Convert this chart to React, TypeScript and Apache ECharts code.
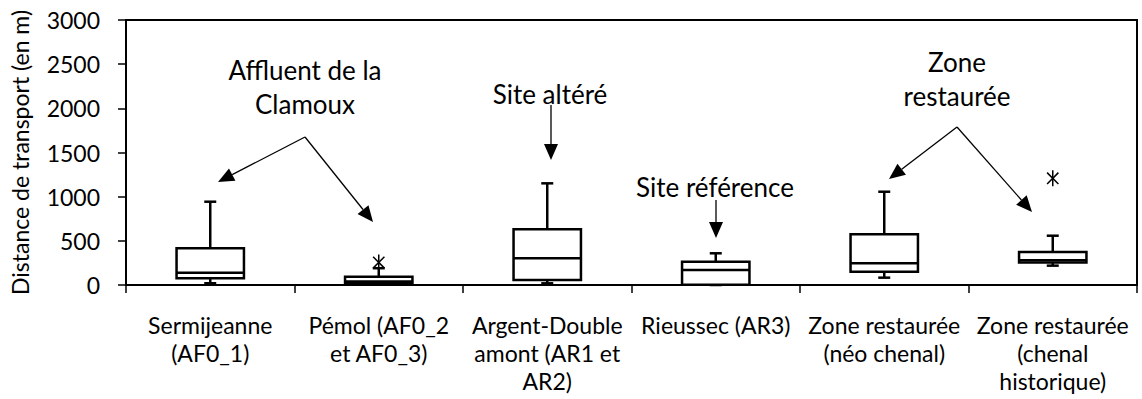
import React, { useEffect, useRef } from "react";
import * as echarts from "echarts";

const categories = [
  "Sermijeanne\n(AF0_1)",
  "Pémol (AF0_2\net AF0_3)",
  "Argent-Double\namont (AR1 et\nAR2)",
  "Rieussec (AR3)",
  "Zone restaurée\n(néo chenal)",
  "Zone restaurée\n(chenal\nhistorique)",
];
// [min, q1, median, q3, max]
const boxValues = [
  [20, 76, 139, 415, 943],
  [5, 19, 40, 94, 190],
  [19, 57, 302, 630, 1151],
  [0, 2, 170, 264, 359],
  [83, 151, 245, 574, 1056],
  [219, 255, 280, 375, 558],
];
// [category index, value]
const outliers = [
  [1, 255],
  [5, 1208],
];
const yTicks = { min: 0, max: 3000, interval: 500 };
const yAxisTitle = "Distance de transport (en m)";

const FONT = "Lato";

type Arrow = [number, number, number, number];
const annotationTexts: { lines: string[]; x: number; y: number }[] = [
  { lines: ["Affluent de la", "Clamoux"], x: 305, y: 70 },
  { lines: ["Site altéré"], x: 550, y: 94 },
  { lines: ["Site référence"], x: 715, y: 187 },
  { lines: ["Zone", "restaurée"], x: 957, y: 62 },
];
const arrows: Arrow[] = [
  [305, 137, 218, 182],
  [305, 137, 373, 222],
  [551, 105, 551, 160],
  [716, 200, 716, 238],
  [957, 127, 889, 179],
  [957, 127, 1032, 212],
];

function buildGraphics() {
  const els: any[] = [];
  annotationTexts.forEach((a) => {
    a.lines.forEach((ln, i) => {
      els.push({
        type: "text",
        x: a.x,
        y: a.y + i * 34,
        style: {
          text: ln,
          fill: "#000",
          font: `26px ${FONT}`,
          align: "center",
          verticalAlign: "middle",
        },
      });
    });
  });
  arrows.forEach(([x1, y1, x2, y2]) => {
    const dx = x2 - x1;
    const dy = y2 - y1;
    const len = Math.sqrt(dx * dx + dy * dy);
    const ux = dx / len;
    const uy = dy / len;
    const hl = 16;
    const hw = 7;
    const bx = x2 - ux * hl;
    const by = y2 - uy * hl;
    els.push({
      type: "line",
      shape: { x1, y1, x2: bx, y2: by },
      style: { stroke: "#000", lineWidth: 1.3 },
    });
    els.push({
      type: "polygon",
      shape: {
        points: [
          [x2, y2],
          [bx - uy * hw, by + ux * hw],
          [bx + uy * hw, by - ux * hw],
        ],
      },
      style: { fill: "#000" },
    });
  });
  return els;
}

export default function App() {
  const ref = useRef<HTMLDivElement>(null);
  useEffect(() => {
    if (!ref.current) return;
    const chart = echarts.init(ref.current, null, { renderer: "svg" });
    const boxData = boxValues.map((b, i) => [i, ...b]);
    chart.setOption({
      animation: false,
      backgroundColor: "#fff",
      grid: {
        left: 124,
        right: 5,
        top: 20,
        bottom: 114,
        show: true,
        borderColor: "#000",
        borderWidth: 2,
      },
      xAxis: {
        type: "category",
        data: categories,
        boundaryGap: true,
        axisLine: { show: true, lineStyle: { color: "#000", width: 2 } },
        axisTick: { show: true, length: 8, lineStyle: { color: "#000", width: 1.5 } },
        axisLabel: {
          interval: 0,
          color: "#000",
          fontFamily: FONT,
          fontSize: 23,
          lineHeight: 28,
          margin: 26,
        },
        splitLine: { show: false },
      },
      yAxis: {
        type: "value",
        min: yTicks.min,
        max: yTicks.max,
        interval: yTicks.interval,
        name: yAxisTitle,
        nameLocation: "middle",
        nameGap: 95,
        nameTextStyle: { color: "#000", fontFamily: FONT, fontSize: 23 },
        axisLine: { show: true, lineStyle: { color: "#000", width: 2 } },
        axisTick: { show: true, length: 8, lineStyle: { color: "#000", width: 1.5 } },
        axisLabel: {
          color: "#000",
          fontFamily: FONT,
          fontSize: 23,
          margin: 26,
          formatter: (v: number) => String(v),
        },
        splitLine: { show: false },
      },
      series: [
        {
          type: "custom",
          data: boxData,
          encode: { x: 0, y: [1, 2, 3, 4, 5] },
          renderItem: (params: any, api: any) => {
            const i = api.value(0);
            const pMin = api.coord([i, api.value(1)]);
            const pQ1 = api.coord([i, api.value(2)]);
            const pMed = api.coord([i, api.value(3)]);
            const pQ3 = api.coord([i, api.value(4)]);
            const pMax = api.coord([i, api.value(5)]);
            const cx = pMed[0];
            const bw = api.size([1, 0])[0] * 0.4;
            const cw = 12;
            const st = { stroke: "#000", lineWidth: 2.5, fill: "none" };
            return {
              type: "group",
              children: [
                { type: "line", shape: { x1: cx, y1: pQ3[1], x2: cx, y2: pMax[1] }, style: st },
                { type: "line", shape: { x1: cx - cw / 2, y1: pMax[1], x2: cx + cw / 2, y2: pMax[1] }, style: st },
                { type: "line", shape: { x1: cx, y1: pQ1[1], x2: cx, y2: pMin[1] }, style: st },
                { type: "line", shape: { x1: cx - cw / 2, y1: pMin[1], x2: cx + cw / 2, y2: pMin[1] }, style: st },
                {
                  type: "rect",
                  shape: { x: cx - bw / 2, y: pQ3[1], width: bw, height: pQ1[1] - pQ3[1] },
                  style: { stroke: "#000", lineWidth: 2.5, fill: "#fff" },
                },
                { type: "line", shape: { x1: cx - bw / 2, y1: pMed[1], x2: cx + bw / 2, y2: pMed[1] }, style: st },
              ],
            };
          },
        },
        {
          type: "custom",
          data: outliers,
          encode: { x: 0, y: 1 },
          renderItem: (params: any, api: any) => {
            const p = api.coord([api.value(0), api.value(1)]);
            const r = 8;
            const st = { stroke: "#000", lineWidth: 1.5 };
            const a = (45 * Math.PI) / 180;
            const dx = Math.sin(a) * r;
            const dy = Math.cos(a) * r;
            return {
              type: "group",
              children: [
                { type: "line", shape: { x1: p[0], y1: p[1] - r, x2: p[0], y2: p[1] + r }, style: st },
                { type: "line", shape: { x1: p[0] - dx, y1: p[1] - dy, x2: p[0] + dx, y2: p[1] + dy }, style: st },
                { type: "line", shape: { x1: p[0] + dx, y1: p[1] - dy, x2: p[0] - dx, y2: p[1] + dy }, style: st },
              ],
            };
          },
        },
      ],
      graphic: buildGraphics(),
    });
    return () => chart.dispose();
  }, []);
  return (
    <div
      ref={ref}
      style={{ position: "fixed", left: 0, top: 0, width: 1142, height: 399 }}
    />
  );
}
